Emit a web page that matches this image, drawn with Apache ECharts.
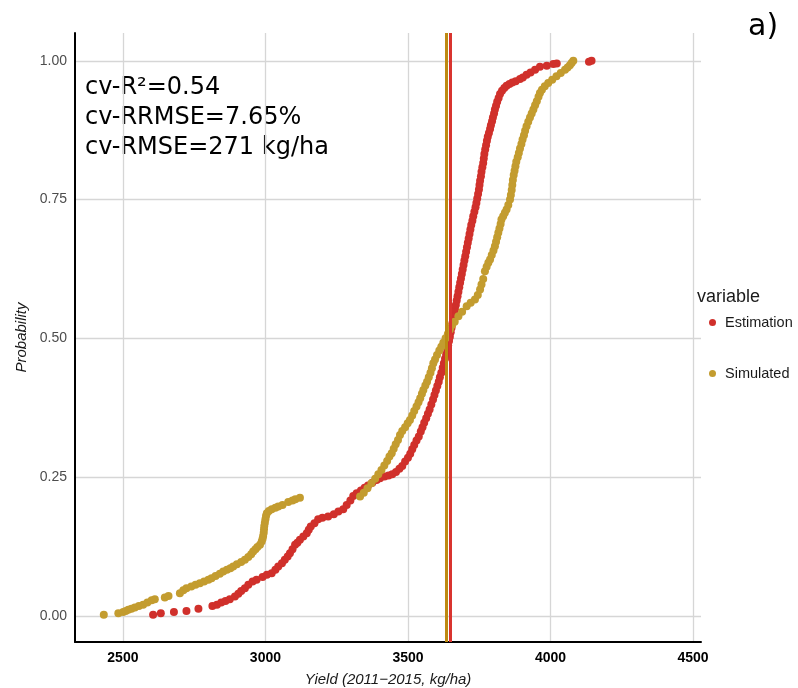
<!DOCTYPE html>
<html>
<head>
<meta charset="utf-8">
<title>Yield ECDF</title>
<script src="https://cdn.jsdelivr.net/npm/echarts@6/dist/echarts.min.js"></script>
<style>
  html, body { margin: 0; padding: 0; background: #ffffff; overflow: hidden; }
  #chart { width: 798px; height: 688px; }
</style>
</head>
<body>
<div id="chart"></div>
<script>
// Empirical cumulative probability of yield, [yield kg/ha, probability]
const estimation = [
  [2606,0.002],[2633,0.005],[2679,0.007],[2723,0.009],[2765,0.013],[2814,0.018],[2830,0.020],
  [2845,0.024],[2860,0.027],[2875,0.030],[2893,0.035],[2905,0.040],[2915,0.045],[2928,0.050],
  [2940,0.056],[2955,0.062],[2969,0.065],[2990,0.070],[3005,0.074],[3022,0.077],[3035,0.083],
  [3045,0.089],[3058,0.095],[3068,0.101],[3078,0.107],[3086,0.113],[3095,0.120],[3104,0.128],
  [3112,0.132],[3121,0.137],[3133,0.143],[3145,0.149],[3152,0.155],[3159,0.161],[3172,0.167],
  [3185,0.174],[3200,0.177],[3220,0.179],[3240,0.183],[3256,0.188],[3273,0.192],[3285,0.200],
  [3298,0.208],[3308,0.216],[3320,0.221],[3335,0.226],[3348,0.231],[3360,0.235],[3375,0.240],
  [3390,0.245],[3402,0.248],[3418,0.251],[3432,0.253],[3445,0.255],[3458,0.259],[3470,0.265],
  [3480,0.270],[3490,0.278],[3500,0.285],[3508,0.292],[3515,0.300],[3522,0.308],[3530,0.316],
  [3538,0.323],[3545,0.332],[3551,0.340],[3557,0.348],[3564,0.356],[3570,0.364],[3576,0.372],
  [3582,0.381],[3588,0.390],[3593,0.398],[3598,0.406],[3603,0.414],[3608,0.422],[3612,0.430],
  [3617,0.438],[3622,0.447],[3626,0.455],[3630,0.463],[3634,0.471],[3638,0.479],[3641,0.487],
  [3644,0.495],[3647,0.503],[3650,0.511],[3653,0.519],[3656,0.527],[3659,0.535],[3662,0.543],
  [3665,0.552],[3668,0.560],[3671,0.568],[3674,0.576],[3677,0.584],[3680,0.592],[3683,0.600],
  [3686,0.608],[3689,0.616],[3692,0.624],[3695,0.632],[3698,0.640],[3701,0.648],[3704,0.656],
  [3707,0.664],[3710,0.672],[3713,0.680],[3716,0.688],[3719,0.696],[3722,0.704],[3726,0.712],
  [3729,0.720],[3733,0.728],[3737,0.736],[3740,0.744],[3743,0.752],[3746,0.760],[3749,0.768],
  [3751,0.776],[3753,0.784],[3756,0.792],[3758,0.800],[3761,0.808],[3764,0.816],[3766,0.824],
  [3768,0.832],[3771,0.840],[3774,0.848],[3777,0.856],[3780,0.863],[3784,0.870],[3788,0.877],
  [3791,0.884],[3795,0.891],[3798,0.898],[3802,0.905],[3805,0.912],[3809,0.919],[3813,0.926],
  [3818,0.933],[3823,0.940],[3830,0.946],[3838,0.951],[3846,0.955],[3856,0.958],[3866,0.961],
  [3878,0.963],[3893,0.967],[3903,0.970],[3916,0.975],[3930,0.979],[3946,0.984],[3963,0.989],
  [3987,0.991],[4010,0.994],[4022,0.995],[4135,0.998],[4144,1.000]
];

const simulated = [
  [2433,0.002],[2484,0.005],[2501,0.007],[2510,0.009],[2519,0.011],[2530,0.013],[2542,0.015],
  [2556,0.018],[2571,0.020],[2586,0.024],[2601,0.028],[2612,0.030],[2647,0.033],[2660,0.036],
  [2700,0.041],[2712,0.046],[2723,0.050],[2740,0.053],[2755,0.056],[2770,0.059],[2785,0.062],
  [2800,0.065],[2811,0.068],[2825,0.072],[2840,0.076],[2852,0.080],[2865,0.083],[2877,0.086],
  [2887,0.089],[2900,0.093],[2915,0.097],[2928,0.101],[2940,0.106],[2950,0.111],[2957,0.116],
  [2965,0.120],[2972,0.124],[2981,0.128],[2987,0.134],[2990,0.139],[2992,0.144],[2994,0.150],
  [2995,0.156],[2996,0.162],[2998,0.168],[3000,0.174],[3002,0.180],[3005,0.185],[3012,0.189],
  [3022,0.192],[3035,0.195],[3045,0.197],[3060,0.200],[3080,0.205],[3095,0.208],[3105,0.210],
  [3121,0.213],
  [3332,0.215],[3345,0.222],[3358,0.230],[3372,0.239],[3385,0.247],[3396,0.255],[3407,0.263],
  [3417,0.271],[3427,0.279],[3435,0.287],[3443,0.293],[3450,0.301],[3457,0.309],[3465,0.317],
  [3472,0.326],[3480,0.333],[3490,0.340],[3499,0.347],[3507,0.353],[3515,0.361],[3522,0.369],
  [3530,0.377],[3537,0.385],[3543,0.392],[3549,0.400],[3554,0.407],[3561,0.415],[3567,0.422],
  [3573,0.430],[3579,0.438],[3584,0.446],[3589,0.455],[3595,0.462],[3602,0.470],[3610,0.478],
  [3617,0.485],[3624,0.492],[3632,0.500],[3640,0.508],[3647,0.516],[3655,0.524],[3664,0.530],
  [3677,0.540],[3690,0.548],[3706,0.558],[3720,0.564],[3735,0.570],[3745,0.578],[3753,0.588],
  [3758,0.597],[3764,0.607],[3770,0.621],[3776,0.629],[3782,0.636],[3788,0.642],[3794,0.650],
  [3800,0.658],[3805,0.666],[3809,0.674],[3813,0.682],[3817,0.690],[3821,0.698],[3825,0.706],
  [3828,0.714],[3834,0.720],[3840,0.726],[3846,0.732],[3852,0.740],[3858,0.750],[3861,0.758],
  [3864,0.767],[3866,0.776],[3868,0.785],[3871,0.794],[3874,0.802],[3877,0.810],[3880,0.818],
  [3885,0.826],[3889,0.834],[3893,0.842],[3898,0.850],[3902,0.858],[3907,0.866],[3911,0.874],
  [3916,0.882],[3922,0.890],[3928,0.898],[3934,0.905],[3940,0.912],[3946,0.920],[3952,0.927],
  [3958,0.935],[3963,0.942],[3970,0.948],[3980,0.954],[3992,0.960],[4006,0.966],[4021,0.972],
  [4036,0.978],[4051,0.984],[4060,0.988],[4068,0.992],[4074,0.996],[4080,1.000]
];

// Mean yields drawn as vertical reference lines
const simulatedMean = 3633;
const estimationMean = 3647;

const xTicks = [2500, 3000, 3500, 4000, 4500];
const yTicks = [0, 0.25, 0.5, 0.75, 1];
const statsLines = ['cv-R\u00b2=0.54', 'cv-RRMSE=7.65%', 'cv-RMSE=271 kg/ha'];

const RED = '#d0302b';
const GOLD = '#c39c2f';
const RED_LINE = '#d9342f';
const GOLD_LINE = '#bd8a12';
const SANS = 'Liberation Sans, Arial, sans-serif';
const DEJAVU = 'DejaVu Sans, sans-serif';

const chart = echarts.init(document.getElementById('chart'), null, { renderer: 'canvas' });

chart.setOption({
  animation: false,
  backgroundColor: '#ffffff',
  grid: { left: 75, right: 97, top: 33, bottom: 46, containLabel: false, outerBoundsMode: 'none' },
  xAxis: {
    type: 'value',
    min: 2332,
    max: 4528,
    name: 'Yield (2011\u22122015, kg/ha)',
    nameLocation: 'middle',
    nameGap: 30,
    nameTextStyle: { fontFamily: SANS, fontStyle: 'italic', fontSize: 15, color: '#1a1a1a' },
    axisLine: { show: true, onZero: false, lineStyle: { color: '#000000', width: 2 } },
    axisTick: { show: false, customValues: xTicks },
    axisLabel: {
      customValues: xTicks,
      formatter: v => String(v),
      fontFamily: SANS, fontWeight: 'bold', fontSize: 14, color: '#000000', margin: 9
    },
    splitLine: { show: true, lineStyle: { color: '#d6d6d6', width: 1.3 } }
  },
  yAxis: {
    type: 'value',
    min: -0.047,
    max: 1.05,
    name: 'Probability',
    nameLocation: 'middle',
    nameGap: 46,
    nameTextStyle: { fontFamily: SANS, fontStyle: 'italic', fontSize: 15, color: '#1a1a1a' },
    axisLine: { show: true, onZero: false, lineStyle: { color: '#000000', width: 2 } },
    axisTick: { show: false, customValues: yTicks },
    axisLabel: {
      customValues: yTicks,
      formatter: v => v.toFixed(2),
      fontFamily: SANS, fontSize: 14, color: '#4d4d4d', margin: 8
    },
    splitLine: { show: true, lineStyle: { color: '#d6d6d6', width: 1.3 } }
  },
  legend: [
    {
      data: ['Estimation'], orient: 'vertical', left: 704, top: 310,
      icon: 'circle', itemWidth: 7, itemHeight: 7, itemGap: 0,
      textStyle: { fontFamily: SANS, fontSize: 14.5, color: '#1a1a1a', padding: [0, 0, 0, 4] }
    },
    {
      data: ['Simulated'], orient: 'vertical', left: 704, top: 361,
      icon: 'circle', itemWidth: 7, itemHeight: 7, itemGap: 0,
      textStyle: { fontFamily: SANS, fontSize: 14.5, color: '#1a1a1a', padding: [0, 0, 0, 4] }
    }
  ],
  graphic: [
    {
      type: 'text', left: 697, top: 288,
      style: { text: 'variable', fontFamily: SANS, fontSize: 18, fill: '#1a1a1a' }
    },
    {
      type: 'text', left: 748, top: 12,
      style: { text: 'a)', fontFamily: DEJAVU, fontSize: 30, fill: '#000000' }
    },
    {
      type: 'text', left: 85, top: 73,
      style: {
        text: statsLines.join('\n'), fontFamily: DEJAVU, fontSize: 24,
        lineHeight: 30, fill: '#000000'
      }
    }
  ],
  series: [
    {
      name: 'Estimation', type: 'scatter', data: estimation,
      symbolSize: 8, itemStyle: { color: RED, opacity: 1 }, z: 2
    },
    {
      name: 'Simulated', type: 'scatter', data: simulated,
      symbolSize: 8, itemStyle: { color: GOLD, opacity: 1 }, z: 3
    },
    {
      name: 'means', type: 'line', data: [], z: 5, silent: true,
      markLine: {
        silent: true, symbol: 'none', animation: false,
        label: { show: false },
        data: [
          { xAxis: simulatedMean, lineStyle: { color: GOLD_LINE, width: 3, type: 'solid' } },
          { xAxis: estimationMean, lineStyle: { color: RED_LINE, width: 3, type: 'solid' } }
        ]
      }
    }
  ]
});
</script>
</body>
</html>
